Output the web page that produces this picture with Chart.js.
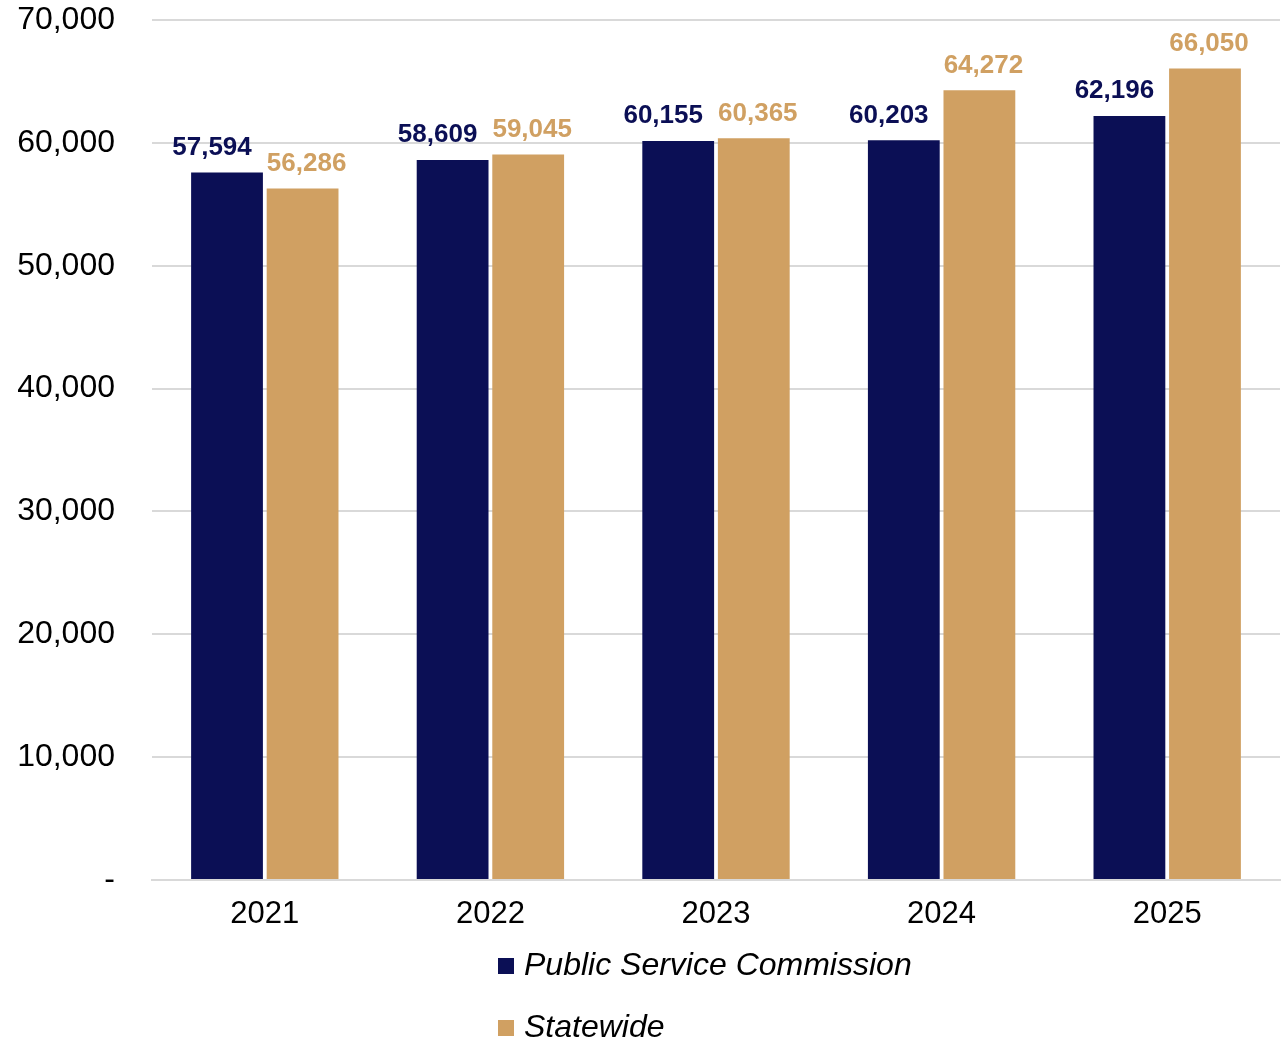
<!DOCTYPE html>
<html>
<head>
<meta charset="utf-8">
<script src="https://cdn.jsdelivr.net/npm/chart.js@4/dist/chart.umd.min.js"></script>
<style>
  html, body { margin: 0; padding: 0; background: #fff; }
  #wrap { width: 1286px; height: 1042px; position: relative; }
</style>
</head>
<body>
<div id="wrap"><canvas id="grafico" width="1286" height="1042"></canvas></div>
<script>
const years = ["2021", "2022", "2023", "2024", "2025"];
const psc = [57594, 58609, 60155, 60203, 62196];
const statewide = [56286, 59045, 60365, 64272, 66050];
const yTicks = [0, 10000, 20000, 30000, 40000, 50000, 60000, 70000];

const navy = '#0B0F55';
const tan = '#D0A062';
const fontFam = '"Liberation Sans", Arial, sans-serif';

// etiquetas encima de cada barra
const etiquetas = {
  id: 'etiquetas',
  afterDatasetsDraw(chart) {
    const ctx = chart.ctx;
    const offsets = [-15, 4];
    ctx.save();
    ctx.font = 'bold 26px ' + fontFam;
    ctx.textAlign = 'center';
    ctx.textBaseline = 'middle';
    chart.data.datasets.forEach((ds, i) => {
      ctx.fillStyle = ds.backgroundColor;
      chart.getDatasetMeta(i).data.forEach((bar, j) => {
        const v = ds.data[j];
        ctx.fillText(v.toLocaleString('en-US'), bar.x + offsets[i], bar.y - 25);
      });
    });
    ctx.restore();
  }
};

// leyenda vertical abajo
const leyenda = {
  id: 'leyenda',
  afterDraw(chart) {
    const ctx = chart.ctx;
    ctx.save();
    ctx.font = 'italic 32px ' + fontFam;
    ctx.textBaseline = 'middle';
    ctx.textAlign = 'left';
    chart.data.datasets.forEach((ds, i) => {
      const y = 966 + i * 62;
      ctx.fillStyle = ds.backgroundColor;
      ctx.fillRect(498, y - 8, 16, 16);
      ctx.fillStyle = '#000';
      ctx.fillText(ds.label, 524, y);
    });
    ctx.restore();
  }
};

new Chart(document.getElementById('grafico'), {
  type: 'bar',
  data: {
    labels: years,
    datasets: [
      { label: 'Public Service Commission', data: psc, backgroundColor: navy },
      { label: 'Statewide', data: statewide, backgroundColor: tan }
    ]
  },
  options: {
    responsive: false,
    animation: false,
    layout: { padding: { top: 20, right: 6, bottom: 112, left: 0 } },
    categoryPercentage: 0.67,
    barPercentage: 0.95,
    plugins: {
      legend: { display: false },
      tooltip: { enabled: false }
    },
    scales: {
      x: {
        grid: { display: false, drawTicks: false },
        border: { display: true, color: '#D9D9D9', width: 2 },
        ticks: { color: '#000', font: { family: fontFam, size: 31 }, padding: 16 },
        afterFit(scale) { scale.height = 50; scale.paddingLeft = 0; scale.paddingRight = 0; }
      },
      y: {
        min: 0,
        max: 70000,
        afterBuildTicks(scale) { scale.ticks = yTicks.map(v => ({ value: v })); },
        grid: { color: '#D9D9D9', lineWidth: 2, drawTicks: false },
        border: { display: false },
        ticks: {
          color: '#000',
          font: { family: fontFam, size: 32 },
          padding: 37,
          callback: v => v === 0 ? '-' : v.toLocaleString('en-US')
        },
        afterFit(scale) { scale.width = 152; scale.paddingTop = 0; scale.paddingBottom = 0; }
      }
    }
  },
  plugins: [etiquetas, leyenda]
});
</script>
</body>
</html>
